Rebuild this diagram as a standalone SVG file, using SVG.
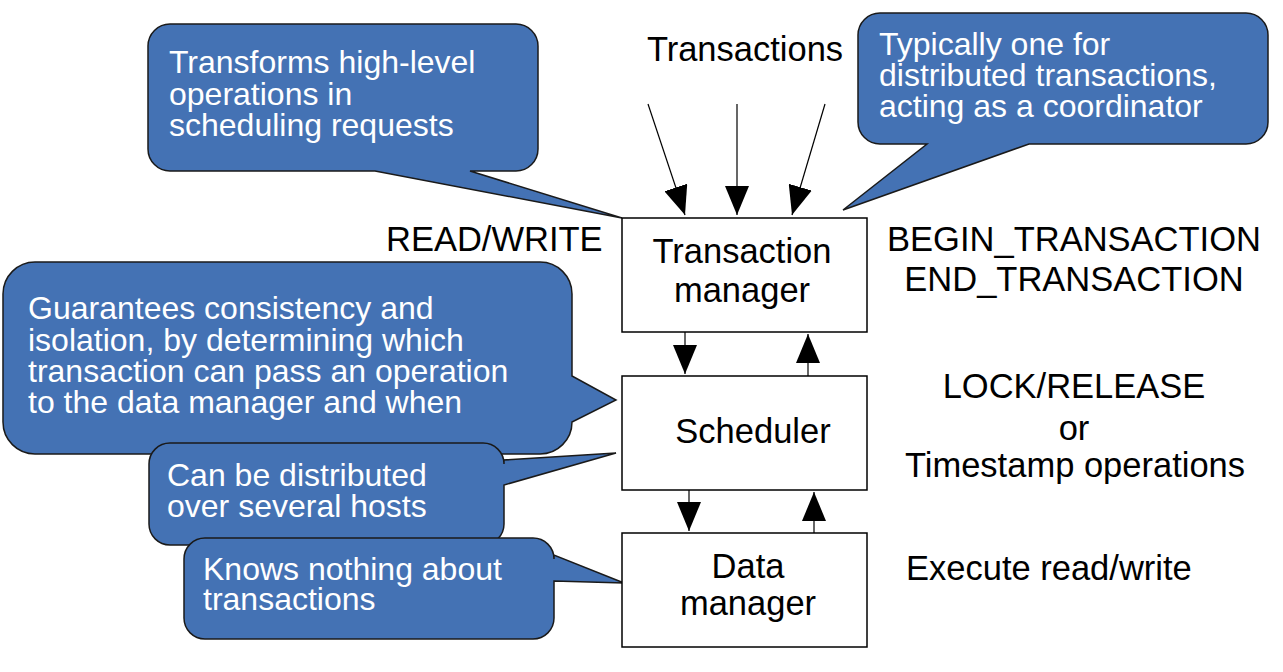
<svg xmlns="http://www.w3.org/2000/svg" width="1283" height="672" viewBox="0 0 1283 672">
<style>
.bg{fill:#ffffff}
.call{fill:#4472B4;stroke:#1a1a1a;stroke-width:1.5;stroke-linejoin:miter}
.ct{font-family:"Liberation Sans",Arial,sans-serif;font-size:32px;fill:#ffffff}
.box{fill:#ffffff;stroke:#000000;stroke-width:1.5}
.bt{font-family:"Liberation Sans",Arial,sans-serif;font-size:34.5px;fill:#000000;text-anchor:middle}
.lt{font-family:"Liberation Sans",Arial,sans-serif;font-size:34.5px;fill:#000000}
.ln{stroke:#000000;stroke-width:1.2;fill:none;marker-end:url(#ah)}
</style>
<defs>
<marker id="ah" markerUnits="userSpaceOnUse" markerWidth="30" markerHeight="24" refX="29" refY="12" orient="auto">
<path d="M0,0 L29,12 L0,24 Z" fill="#000000"/>
</marker>
</defs>
<rect class="bg" x="0" y="0" width="1283" height="672"/>

<g id="callout-tm-left">
<path class="call" d="M170,24 H516 A22,22 0 0 1 538,46 V149 A22,22 0 0 1 516,171 H470 L622,218 L375,171 H170 A22,22 0 0 1 148,149 V46 A22,22 0 0 1 170,24 Z"/>
<text class="ct" x="169" y="73">Transforms high-level</text>
<text class="ct" x="169" y="105">operations in</text>
<text class="ct" x="169" y="136">scheduling requests</text>
</g>

<g id="callout-tm-right">
<path class="call" d="M880,13 H1246 A22,22 0 0 1 1268,35 V122 A22,22 0 0 1 1246,144 H1029 L843,210 L927,144 H880 A22,22 0 0 1 858,122 V35 A22,22 0 0 1 880,13 Z"/>
<text class="ct" x="879" y="55">Typically one for</text>
<text class="ct" x="879" y="86">distributed transactions,</text>
<text class="ct" x="879" y="117">acting as a coordinator</text>
</g>

<g id="callout-scheduler">
<path class="call" d="M35,262 H540 A32,32 0 0 1 572,294 V376 L616,400 L572,422 V422 A32,32 0 0 1 540,454 H35 A32,32 0 0 1 3,422 V294 A32,32 0 0 1 35,262 Z"/>
<text class="ct" x="28" y="319">Guarantees consistency and</text>
<text class="ct" x="28" y="351">isolation, by determining which</text>
<text class="ct" x="28" y="382">transaction can pass an operation</text>
<text class="ct" x="28" y="413">to the data manager and when</text>
</g>

<g id="callout-distributed">
<path class="call" d="M170,443 H483 A21,21 0 0 1 504,464 V460 L616,453 L504,485 V524 A21,21 0 0 1 483,545 H170 A21,21 0 0 1 149,524 V464 A21,21 0 0 1 170,443 Z"/>
<text class="ct" x="167" y="486">Can be distributed</text>
<text class="ct" x="167" y="517">over several hosts</text>
</g>

<g id="callout-dm">
<path class="call" d="M205,538 H533 A21,21 0 0 1 554,559 V555 L624,583 L554,581 V618 A21,21 0 0 1 533,639 H205 A21,21 0 0 1 184,618 V559 A21,21 0 0 1 205,538 Z"/>
<text class="ct" x="203" y="580">Knows nothing about</text>
<text class="ct" x="203" y="610">transactions</text>
</g>

<g id="connectors">
<line class="ln" x1="648" y1="104" x2="685" y2="215"/>
<line class="ln" x1="737" y1="104" x2="737" y2="215"/>
<line class="ln" x1="825" y1="104" x2="792" y2="215"/>
<line class="ln" x1="685" y1="332" x2="685" y2="374"/>
<line class="ln" x1="808" y1="376" x2="808" y2="334"/>
<line class="ln" x1="689" y1="490" x2="689" y2="531"/>
<line class="ln" x1="814" y1="533" x2="814" y2="492"/>
</g>

<g id="transaction-manager">
<rect class="box" x="622" y="218" width="245" height="114"/>
<text class="bt" x="742" y="263">Transaction</text>
<text class="bt" x="742" y="302">manager</text>
</g>

<g id="scheduler">
<rect class="box" x="622" y="376" width="245" height="114"/>
<text class="bt" x="753" y="443">Scheduler</text>
</g>

<g id="data-manager">
<rect class="box" x="622" y="533" width="245" height="114"/>
<text class="bt" x="748" y="578">Data</text>
<text class="bt" x="748" y="615">manager</text>
</g>

<g id="labels">
<text class="bt" x="745" y="61">Transactions</text>
<text class="lt" x="386" y="251">READ/WRITE</text>
<text class="bt" x="1074" y="251">BEGIN_TRANSACTION</text>
<text class="bt" x="1074" y="291">END_TRANSACTION</text>
<text class="bt" x="1074" y="398">LOCK/RELEASE</text>
<text class="bt" x="1074" y="440">or</text>
<text class="bt" x="1075" y="477">Timestamp operations</text>
<text class="lt" x="906" y="580">Execute read/write</text>
</g>
</svg>
